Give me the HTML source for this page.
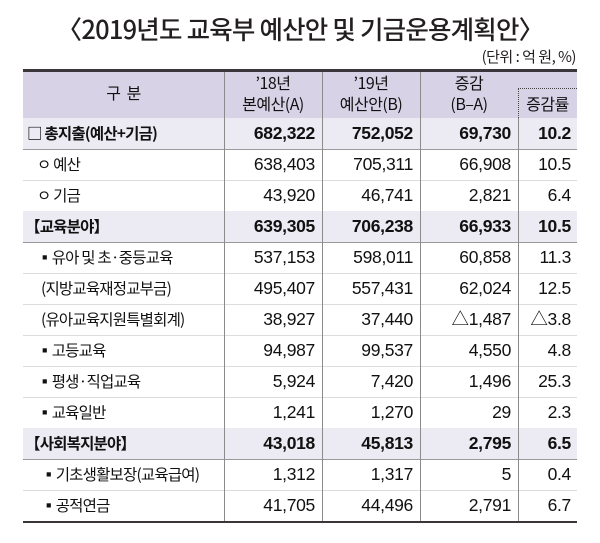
<!DOCTYPE html>
<html><head><meta charset="utf-8"><style>
body{margin:0;width:600px;height:543px;background:#fff;font-family:"Liberation Sans","Noto Sans CJK KR",sans-serif;color:#231f20;position:relative;overflow:hidden}
.t{position:absolute;left:0;width:600px;top:10px;text-align:center;font-size:25.5px;font-weight:500;letter-spacing:-0.8px;font-family:"Noto Sans CJK KR",sans-serif}
.u{position:absolute;right:24px;top:46px;font-size:15px;letter-spacing:-0.5px;font-family:"Noto Sans CJK KR",sans-serif}
.hd{position:absolute;left:23px;top:69px;width:554px;height:46px;background:#d8d2e6;border-top:3px solid #3a3538;border-bottom:3px double #8a8a8a}
.vl{position:absolute;width:1px;background:#8d8a8c}
.hx{position:absolute;text-align:center;font-size:16px;line-height:21px;letter-spacing:-0.5px;color:#111;font-family:"Noto Sans CJK KR",sans-serif}
.r{position:absolute;left:23px;width:554px;height:31px;border-bottom:1px solid #dcdcdc;font-size:15.5px;color:#111;font-family:"Noto Sans CJK KR",sans-serif}
.r.s{background:#ecebf4;font-weight:bold;border-bottom:1px solid #9a9a9a}
.r span{position:absolute;top:0;line-height:31px;white-space:nowrap}
.r .l{letter-spacing:-0.8px}
.r .n{text-align:right;letter-spacing:-0.3px;font-size:17.5px;font-family:"Liberation Sans","Noto Sans CJK KR",sans-serif}
</style></head><body>
<div class="t">〈2019년도 교육부 예산안 및 기금운용계획안〉</div>
<div class="u">(단위 : 억 원, %)</div>
<div class="hd"></div>
<div class="hx" style="left:23px;width:201px;top:82px;">구 &nbsp;분</div>
<div class="hx" style="left:224px;width:98px;top:72px;">’18년<br>본예산(A)</div>
<div class="hx" style="left:322px;width:98px;top:72px;">’19년<br>예산안(B)</div>
<div class="hx" style="left:420px;width:98px;top:72px;">증감<br>(B–A)</div>
<div class="hx" style="left:518px;width:59px;top:93px;">증감률</div>
<div style="position:absolute;left:518px;top:88px;width:59px;border-top:1px dotted #444"></div>
<div style="position:absolute;left:518px;top:88px;height:30px;border-left:1px dotted #444"></div>

<div id="rows"></div>
<div class="vl" style="left:224px;top:72px;height:451px"></div>
<div class="vl" style="left:322px;top:72px;height:451px"></div>
<div class="vl" style="left:420px;top:72px;height:451px"></div>
<div class="vl" style="left:518px;top:118px;height:405px"></div>
<div style="position:absolute;left:23px;top:521px;width:554px;height:2px;background:#3a3538"></div>
<script>
var d=[["s","□ 총지출(예산+기금)","682,322","752,052","69,730","10.2",4],
["","ㅇ 예산","638,403","705,311","66,908","10.5",14],
["","ㅇ 기금","43,920","46,741","2,821","6.4",14],
["s","【교육분야】","639,305","706,238","66,933","10.5",2],
["","▪유아 및 초·중등교육","537,153","598,011","60,858","11.3",14],
["","(지방교육재정교부금)","495,407","557,431","62,024","12.5",18],
["","(유아교육지원특별회계)","38,927","37,440","△1,487","△3.8",18],
["","▪고등교육","94,987","99,537","4,550","4.8",14],
["","▪평생·직업교육","5,924","7,420","1,496","25.3",14],
["","▪교육일반","1,241","1,270","29","2.3",14],
["s","【사회복지분야】","43,018","45,813","2,795","6.5",2],
["","▪기초생활보장(교육급여)","1,312","1,317","5","0.4",18],
["","▪공적연금","41,705","44,496","2,791","6.7",18]];
var h="";
d.forEach(function(r,i){var t=Math.round(118+i*31.0);
h+='<div class="r '+r[0]+'" style="top:'+t+'px;'+(i==12?'border-bottom:none;':'')+'"><span class="l" style="left:'+r[6]+'px">'+r[1]+'</span>'+
'<span class="n" style="right:262px">'+r[2]+'</span><span class="n" style="right:164px">'+r[3]+'</span><span class="n" style="right:66px">'+r[4]+'</span><span class="n" style="right:6px">'+r[5]+'</span></div>';});
document.getElementById("rows").outerHTML=h;
</script>
</body></html>
